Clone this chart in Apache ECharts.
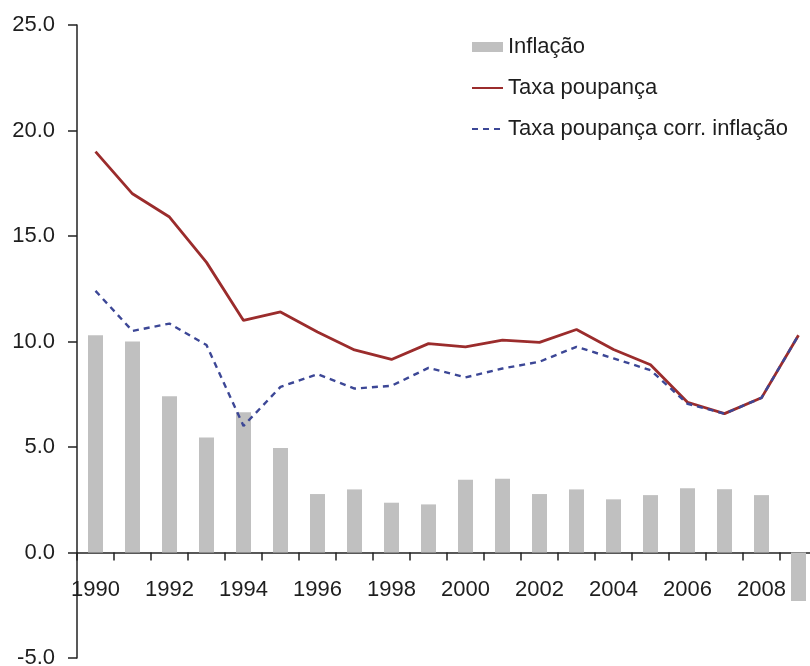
<!DOCTYPE html>
<html>
<head>
<meta charset="utf-8">
<script src="https://cdn.jsdelivr.net/npm/echarts@6/dist/echarts.min.js"></script>
<style>
  html, body { margin: 0; padding: 0; background: #fff; }
  #chart { width: 810px; height: 666px; }
</style>
</head>
<body>
<div id="chart"></div>
<script>
// anos
var years = ["1990", "1991", "1992", "1993", "1994", "1995", "1996", "1997", "1998", "1999",
  "2000", "2001", "2002", "2003", "2004", "2005", "2006", "2007", "2008", "2009"];

// Inflação (barras)
var inflacao = [10.3, 10.0, 7.4, 5.45, 6.65, 4.95, 2.77, 2.99, 2.36, 2.28,
  3.45, 3.5, 2.77, 2.99, 2.52, 2.72, 3.05, 3.0, 2.72, -2.3];

// Taxa poupança
var taxaPoupanca = [19.0, 17.0, 15.9, 13.75, 11.0, 11.4, 10.45, 9.6, 9.15, 9.9,
  9.75, 10.07, 9.96, 10.57, 9.62, 8.9, 7.12, 6.58, 7.33, 10.3];

// Taxa poupança corr. inflação
var taxaCorr = [12.4, 10.5, 10.85, 9.83, 6.0, 7.85, 8.45, 7.77, 7.9, 8.75,
  8.3, 8.72, 9.04, 9.75, 9.2, 8.64, 7.05, 6.58, 7.33, 10.3];

// eixo y
var yMin = -5, yMax = 25, yStep = 5;

var fontFamily = "'Liberation Sans', Arial, sans-serif";
var textColor = "#1e1e1e";

var gridTop = 25, gridBottom = 8, chartHeight = 666;
// x axis sits on the zero line, labels included
var plotHeight = chartHeight - gridTop - gridBottom;
var zeroOffset = -plotHeight * (0 - yMin) / (yMax - yMin);

var chart = echarts.init(document.getElementById("chart"));

var option = {
  animation: false,
  backgroundColor: "#fff",
  textStyle: { fontFamily: fontFamily },
  legend: {
    orient: "vertical",
    left: 471,
    top: 36,
    padding: 0,
    itemWidth: 31,
    itemHeight: 10,
    itemGap: 19,
    textStyle: {
      fontSize: 22,
      color: textColor,
      fontFamily: fontFamily
    },
    data: [
      { name: "Inflação", icon: "rect" },
      { name: "Taxa poupança", itemStyle: { opacity: 0 } },
      { name: "Taxa poupança corr. inflação", itemStyle: { opacity: 0 } }
    ]
  },
  grid: {
    left: 77,
    right: -7,
    top: gridTop,
    bottom: gridBottom,
    containLabel: false,
    outerBoundsMode: "none"
  },
  xAxis: {
    type: "category",
    data: years,
    boundaryGap: true,
    offset: zeroOffset,
    axisLine: {
      onZero: false,
      lineStyle: { color: "#222", width: 1.5 }
    },
    axisTick: {
      show: true,
      interval: 0,
      length: 8,
      lineStyle: { color: "#222", width: 1.5 }
    },
    axisLabel: {
      interval: 1,
      margin: 26,
      fontSize: 22,
      color: textColor,
      fontFamily: fontFamily
    },
    splitLine: { show: false }
  },
  yAxis: {
    type: "value",
    min: yMin,
    max: yMax,
    interval: yStep,
    axisLine: {
      show: true,
      lineStyle: { color: "#222", width: 1.5 }
    },
    axisTick: {
      show: true,
      length: 9,
      lineStyle: { color: "#222", width: 1.5 }
    },
    axisLabel: {
      margin: 22,
      fontSize: 22,
      color: textColor,
      fontFamily: fontFamily,
      formatter: function (v) {
        return v.toFixed(1);
      }
    },
    splitLine: { show: false }
  },
  series: [
    {
      name: "Inflação",
      type: "bar",
      barWidth: 15,
      itemStyle: { color: "#c0c0c0" },
      data: inflacao,
      z: 1
    },
    {
      name: "Taxa poupança",
      type: "line",
      symbol: "none",
      itemStyle: { color: "#9b2c2c" },
      lineStyle: { color: "#9b2c2c", width: 2.8, type: "solid" },
      data: taxaPoupanca,
      z: 3
    },
    {
      name: "Taxa poupança corr. inflação",
      type: "line",
      symbol: "none",
      itemStyle: { color: "#3c4796" },
      lineStyle: { color: "#3c4796", width: 2.4, type: [6, 5] },
      data: taxaCorr,
      z: 4
    }
  ]
};

chart.setOption(option);
</script>
</body>
</html>
